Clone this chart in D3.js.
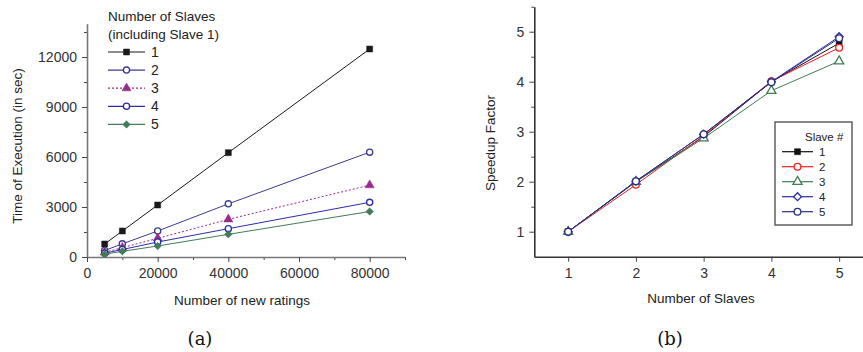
<!DOCTYPE html>
<html>
<head>
<meta charset="utf-8">
<script src="https://cdn.jsdelivr.net/npm/d3@7"></script>
<style>
  body { margin: 0; background: #fff; }
  svg { display: block; font-family: "Liberation Sans", Arial, sans-serif; }
  .tick text { fill: #333; }
</style>
</head>
<body>
<svg id="chart" width="863" height="352"></svg>
<script>
// ---- data: panel (a) ----
const ratings = [5000, 10000, 20000, 40000, 80000];
const timeSlaves1 = [780, 1560, 3120, 6260, 12480];
const timeSlaves2 = [390, 790, 1560, 3190, 6290];
const timeSlaves3 = [280, 560, 1120, 2260, 4310];
const timeSlaves4 = [230, 450, 900, 1700, 3280];
const timeSlaves5 = [170, 340, 660, 1360, 2730];
const timeLabels = ['1', '2', '3', '4', '5'];
const timeTicks = [0, 3000, 6000, 9000, 12000];
const ratingTicks = [0, 20000, 40000, 60000, 80000];

// ---- data: panel (b) ----
const slaves = [1, 2, 3, 4, 5];
const speedup1 = [1, 2.0, 2.9, 4.0, 4.77];
const speedup2 = [1, 1.94, 2.92, 4.01, 4.68];
const speedup3 = [1, 2.0, 2.87, 3.82, 4.41];
const speedup4 = [1, 2.01, 2.95, 4.0, 4.9];
const speedup5 = [1, 2.01, 2.95, 3.99, 4.87];
const speedupLabels = ['1', '2', '3', '4', '5'];
const speedupTicks = [1, 2, 3, 4, 5];

const svg = d3.select('#chart');
const fmt = d3.format('d');

function drawAxes(x, y, opts) {
  const [x0] = x.range();
  const [y0] = y.range();

  // minor ticks
  svg.append('g')
    .attr('transform', `translate(0, ${y0})`)
    .call(d3.axisBottom(x).tickValues(opts.xMinor).tickSize(3).tickFormat(''))
    .call(g => g.select('.domain').remove());
  svg.append('g')
    .attr('transform', `translate(${x0}, 0)`)
    .call(d3.axisLeft(y).tickValues(opts.yMinor).tickSize(3).tickFormat(''))
    .call(g => g.select('.domain').remove());

  const xAxis = svg.append('g')
    .attr('transform', `translate(0, ${y0})`)
    .call(d3.axisBottom(x).tickValues(opts.xTicks).tickFormat(fmt)
      .tickSize(5).tickSizeOuter(0).tickPadding(6));
  const yAxis = svg.append('g')
    .attr('transform', `translate(${x0}, 0)`)
    .call(d3.axisLeft(y).tickValues(opts.yTicks).tickFormat(fmt)
      .tickSize(5).tickSizeOuter(0).tickPadding(5));

  [xAxis, yAxis].forEach(g => {
    g.selectAll('text').style('font-size', '14px');
    g.select('.domain').attr('stroke', opts.axisColor).attr('stroke-width', 1.6);
  });
  svg.selectAll('.tick line').attr('stroke', '#444');
}

function marker(sel, s) {
  sel.attr('d', d3.symbol().type(s.symbol).size(s.size))
    .attr('fill', s.filled ? s.color : '#fff')
    .attr('stroke', s.color)
    .attr('stroke-width', s.filled ? 0.5 : 1.3);
}

function drawSeries(x, y, xs, ys, s) {
  const line = d3.line().x((d, i) => x(xs[i])).y(d => y(d));
  svg.append('path')
    .datum(ys)
    .attr('fill', 'none')
    .attr('stroke', s.color)
    .attr('stroke-width', 1)
    .attr('stroke-dasharray', s.dash || null)
    .attr('d', line);

  svg.append('g')
    .selectAll('path')
    .data(ys)
    .join('path')
    .attr('transform', (d, i) => `translate(${x(xs[i])}, ${y(d)})`)
    .call(marker, s);
}

function legendItem(x0, x1, ly, label, s, fontSize) {
  svg.append('line')
    .attr('x1', x0).attr('x2', x1).attr('y1', ly).attr('y2', ly)
    .attr('stroke', s.color).attr('stroke-width', 1.2)
    .attr('stroke-dasharray', s.dash || null);
  svg.append('path')
    .attr('transform', `translate(${(x0 + x1) / 2}, ${ly})`)
    .call(marker, s);
  svg.append('text')
    .attr('x', x1 + 6).attr('y', ly)
    .attr('dy', '0.36em')
    .style('font-size', fontSize)
    .attr('fill', '#222')
    .text(label);
}

// ================= panel (a) =================
const xA = d3.scaleLinear().domain([0, 90000]).range([87, 405]);
const yA = d3.scaleLinear().domain([0, 14000]).range([257, 23.7]);

drawAxes(xA, yA, {
  xTicks: ratingTicks,
  yTicks: timeTicks,
  xMinor: d3.range(10000, 90001, 20000),
  yMinor: d3.range(1500, 14001, 3000),
  axisColor: '#777'
});

const seriesA = [
  { ys: timeSlaves1, color: '#1a1a1a', symbol: d3.symbolSquare, size: 36, filled: true },
  { ys: timeSlaves2, color: '#3b3b8f', symbol: d3.symbolCircle, size: 30, filled: false },
  { ys: timeSlaves3, color: '#9a2a8e', symbol: d3.symbolTriangle, size: 36, filled: true, dash: '2,2' },
  { ys: timeSlaves4, color: '#2c2ca6', symbol: d3.symbolCircle, size: 30, filled: false },
  { ys: timeSlaves5, color: '#3f7d57', symbol: d3.symbolDiamond2, size: 36, filled: true }
];
seriesA.forEach(s => drawSeries(xA, yA, ratings, s.ys, s));

svg.append('text').attr('x', 108).attr('y', 21).style('font-size', '13.5px').attr('fill', '#222')
  .text('Number of Slaves');
svg.append('text').attr('x', 108).attr('y', 39).style('font-size', '13.5px').attr('fill', '#222')
  .text('(including Slave 1)');
seriesA.forEach((s, i) => legendItem(108, 145, 52 + i * 18.1, timeLabels[i], s, '14px'));

svg.append('text')
  .attr('transform', 'translate(22, 146) rotate(-90)')
  .attr('text-anchor', 'middle')
  .style('font-size', '13.5px').attr('fill', '#222')
  .text('Time of Execution (in sec)');
svg.append('text')
  .attr('x', 242).attr('y', 305)
  .attr('text-anchor', 'middle')
  .style('font-size', '13.5px').attr('fill', '#222')
  .text('Number of new ratings');
svg.append('text')
  .attr('x', 200).attr('y', 345)
  .attr('text-anchor', 'middle')
  .style('font-family', '"DejaVu Serif", serif')
  .style('font-size', '18px').attr('fill', '#111')
  .text('(a)');

// ================= panel (b) =================
const xB = d3.scaleLinear().domain([0.5, 5.5]).range([534.3, 873]);
const yB = d3.scaleLinear().domain([0.5, 5.5]).range([256.7, 6.7]);

drawAxes(xB, yB, {
  xTicks: speedupTicks,
  yTicks: speedupTicks,
  xMinor: [],
  yMinor: d3.range(1.5, 5.6, 1),
  axisColor: '#333'
});

const seriesB = [
  { ys: speedup1, color: '#111', symbol: d3.symbolSquare, size: 36, filled: true },
  { ys: speedup2, color: '#ee2020', symbol: d3.symbolCircle, size: 36, filled: false },
  { ys: speedup3, color: '#3f7d57', symbol: d3.symbolTriangle, size: 36, filled: false },
  { ys: speedup4, color: '#2b2ba8', symbol: d3.symbolDiamond2, size: 40, filled: false },
  { ys: speedup5, color: '#2d2d80', symbol: d3.symbolCircle, size: 36, filled: false }
];
seriesB.forEach(s => drawSeries(xB, yB, slaves, s.ys, s));

// legend box
svg.append('rect')
  .attr('x', 775).attr('y', 122).attr('width', 77).attr('height', 103)
  .attr('fill', '#fff').attr('stroke', '#555').attr('stroke-width', 1.4);
svg.append('text').attr('x', 805).attr('y', 137).attr('dy', '0.36em')
  .style('font-size', '11.5px').attr('fill', '#222').text('Slave #');
seriesB.forEach((s, i) => legendItem(782, 813, 151.7 + i * 15, speedupLabels[i], s, '11.5px'));

svg.append('text')
  .attr('transform', 'translate(495, 143) rotate(-90)')
  .attr('text-anchor', 'middle')
  .style('font-size', '13.5px').attr('fill', '#222')
  .text('Speedup Factor');
svg.append('text')
  .attr('x', 701).attr('y', 303)
  .attr('text-anchor', 'middle')
  .style('font-size', '13.5px').attr('fill', '#222')
  .text('Number of Slaves');
svg.append('text')
  .attr('x', 670).attr('y', 345)
  .attr('text-anchor', 'middle')
  .style('font-family', '"DejaVu Serif", serif')
  .style('font-size', '18px').attr('fill', '#111')
  .text('(b)');
</script>
</body>
</html>
